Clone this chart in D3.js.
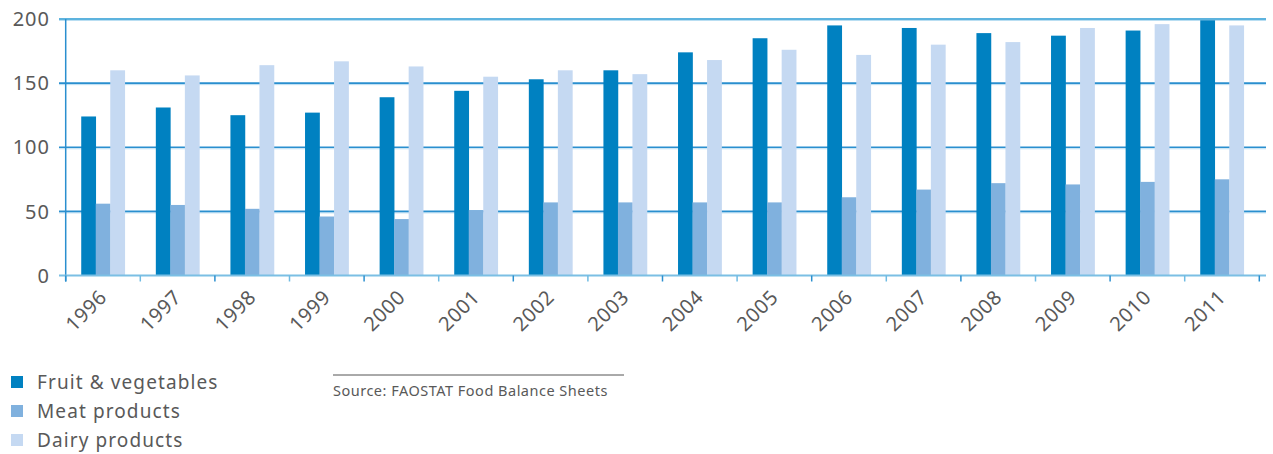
<!DOCTYPE html>
<html>
<head>
<meta charset="utf-8">
<script src="https://cdn.jsdelivr.net/npm/d3@7"></script>
<style>
  html, body { margin: 0; padding: 0; background: #fff; }
  svg { display: block; }
  text { font-family: "Noto Sans", "Open Sans", sans-serif; fill: #595959; }
</style>
</head>
<body>
<svg id="chart" width="1273" height="454"></svg>
<script>
const years = ["1996","1997","1998","1999","2000","2001","2002","2003","2004","2005","2006","2007","2008","2009","2010","2011"];
const seriesNames = ["Fruit & vegetables", "Meat products", "Dairy products"];
const fruitVeg = [124, 131, 125, 127, 139, 144, 153, 160, 174, 185, 195, 193, 189, 187, 191, 199];
const meat     = [56, 55, 52, 46, 44, 51, 57, 57, 57, 57, 61, 67, 72, 71, 73, 75];
const dairy    = [160, 156, 164, 167, 163, 155, 160, 157, 168, 176, 172, 180, 182, 193, 196, 195];
const yTicks = [0, 50, 100, 150, 200];
const colors = ["#0081c1", "#80b1de", "#c5d9f2"];
const sourceText = "Source: FAOSTAT Food Balance Sheets";

const seriesValues = [fruitVeg, meat, dairy];

const svg = d3.select("#chart");
const plotLeft = 65.7, plotRight = 1259.3, plotTop = 19, plotBottom = 275.5;

const x = d3.scaleBand().domain(years).range([plotLeft, plotRight]).paddingInner(0).paddingOuter(0);
const xs = d3.scaleBand().domain(seriesNames).range([0, x.bandwidth()]).paddingInner(0).paddingOuter(1.07);
const y = d3.scaleLinear().domain([0, 200]).range([plotBottom, plotTop]);

// gridlines
const grid = svg.append("g");
yTicks.filter(t => t > 0 && t < 200).forEach(t => {
  grid.append("line").attr("x1", 59).attr("x2", 1266)
    .attr("y1", y(t) + 1.5).attr("y2", y(t) + 1.5)
    .attr("stroke", "#b7dcf2").attr("stroke-width", 1);
  grid.append("line").attr("x1", 59).attr("x2", 1266)
    .attr("y1", y(t)).attr("y2", y(t))
    .attr("stroke", "#2a8fcf").attr("stroke-width", 1.6);
});
// top line
grid.append("line").attr("x1", 59).attr("x2", 1266)
  .attr("y1", y(200)).attr("y2", y(200))
  .attr("stroke", "#5db3de").attr("stroke-width", 2);
grid.append("line").attr("x1", 59).attr("x2", 1266)
  .attr("y1", y(200) + 1.5).attr("y2", y(200) + 1.5)
  .attr("stroke", "#b9def2").attr("stroke-width", 1);

// y axis line
svg.append("line").attr("x1", plotLeft).attr("x2", plotLeft)
  .attr("y1", y(200)).attr("y2", plotBottom + 6)
  .attr("stroke", "#2a8fcf").attr("stroke-width", 1.5);

// bars
const groups = svg.append("g").selectAll("g")
  .data(years).join("g")
  .attr("transform", d => `translate(${x(d)},0)`);
groups.selectAll("rect")
  .data((d, i) => seriesNames.map((s, k) => ({ s, k, v: seriesValues[k][i] })))
  .join("rect")
  .attr("x", d => xs(d.s))
  .attr("width", xs.bandwidth() + 0.3)
  .attr("y", d => y(d.v))
  .attr("height", d => plotBottom - y(d.v))
  .attr("fill", d => colors[d.k]);

// x axis baseline
svg.append("line").attr("x1", 59).attr("x2", 1266)
  .attr("y1", plotBottom).attr("y2", plotBottom)
  .attr("stroke", "#7bbfe4").attr("stroke-width", 2);

// x ticks
svg.append("g").selectAll("line")
  .data(years.concat(["end"])).join("line")
  .attr("x1", (d, i) => plotLeft + i * x.step())
  .attr("x2", (d, i) => plotLeft + i * x.step())
  .attr("y1", plotBottom).attr("y2", plotBottom + 6)
  .attr("stroke", (d, i) => i % 2 ? "#6fbbe3" : "#2a8fcf")
  .attr("stroke-width", 1.5);

// y labels
svg.append("g").selectAll("text")
  .data(yTicks).join("text")
  .attr("x", 50).attr("y", d => y(d))
  .attr("dy", "0.36em")
  .attr("text-anchor", "end")
  .attr("font-size", 20)
  .attr("letter-spacing", 1)
  .text(d => d);

// x labels
svg.append("g").selectAll("text")
  .data(years).join("text")
  .attr("transform", d => `translate(${x(d) + x.bandwidth() / 2 + 5},${plotBottom + 23}) rotate(-45)`)
  .attr("text-anchor", "end")
  .attr("font-size", 20)
  .attr("letter-spacing", 0.6)
  .text(d => d);

// legend
const legend = svg.append("g");
seriesNames.forEach((s, k) => {
  const cy = 382 + k * 29;
  legend.append("rect").attr("x", 11).attr("y", cy - 6).attr("width", 12).attr("height", 12)
    .attr("fill", colors[k]);
  legend.append("text").attr("x", 37).attr("y", cy).attr("dy", "0.36em")
    .attr("font-size", 19).attr("letter-spacing", 1.1).text(s);
});

// source
svg.append("line").attr("x1", 333).attr("x2", 624).attr("y1", 375).attr("y2", 375)
  .attr("stroke", "#555").attr("stroke-width", 1);
svg.append("text").attr("x", 333).attr("y", 396).attr("font-size", 14.5)
  .attr("letter-spacing", 0.5).text(sourceText);
</script>
</body>
</html>
